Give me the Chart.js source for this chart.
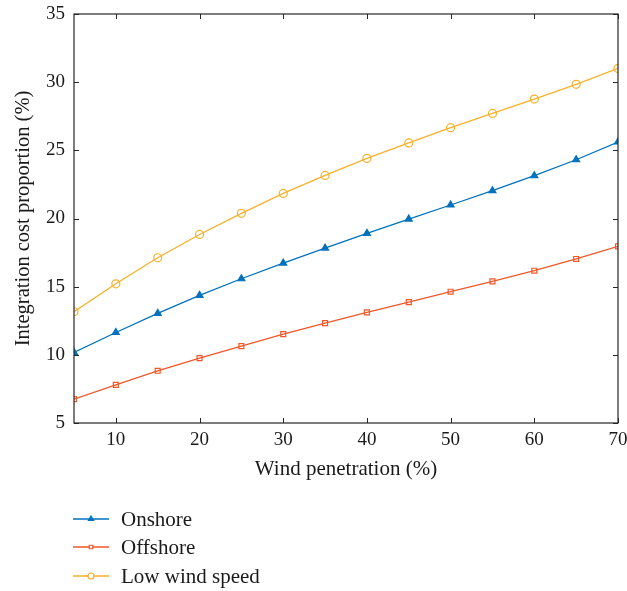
<!DOCTYPE html>
<html>
<head>
<meta charset="utf-8">
<script src="https://cdn.jsdelivr.net/npm/chart.js@4"></script>
<style>
  html, body { margin: 0; padding: 0; background: #fff; }
  #wrap { width: 627px; height: 591px; }
</style>
</head>
<body>
<div id="wrap"><canvas id="grafico"></canvas></div>
<script>
// dati
const penetrazione = [5, 10, 15, 20, 25, 30, 35, 40, 45, 50, 55, 60, 65, 70];
const onshore = [10.18, 11.64, 13.04, 14.36, 15.58, 16.73, 17.83, 18.91, 19.96, 20.99, 22.04, 23.14, 24.31, 25.61];
const offshore = [6.75, 7.8, 8.83, 9.76, 10.64, 11.52, 12.33, 13.11, 13.87, 14.63, 15.39, 16.17, 17.03, 17.96];
const lowWind = [13.16, 15.21, 17.12, 18.83, 20.38, 21.84, 23.16, 24.41, 25.54, 26.66, 27.71, 28.76, 29.84, 31.01];
const xTicks = [10, 20, 30, 40, 50, 60, 70];
const yTicks = [5, 10, 15, 20, 25, 30, 35];

const FONT = "'Liberation Serif', 'DejaVu Serif', serif";
const BLU = '#0072BD';
const ARANCIO = '#F0582A';
const GIALLO = '#F5B12A';

function serie(label, valori, colore, stile, raggio, pieno) {
    return {
        label: label,
        data: penetrazione.map((x, i) => ({ x: x, y: valori[i] })),
        borderColor: colore,
        backgroundColor: pieno ? colore : '#fff',
        pointBorderColor: colore,
        pointBackgroundColor: pieno ? colore : 'rgba(0,0,0,0)',
        pointStyle: stile,
        pointRadius: raggio,
        pointBorderWidth: 1.2,
        borderWidth: 1.3,
        tension: 0,
        fill: false
    };
}

// cornice + tacche verso l'interno (stile matlab)
const cornicePlugin = {
    id: 'cornice',
    afterDraw(chart) {
        const c = chart.ctx;
        const a = chart.chartArea;
        const sx = chart.scales.x, sy = chart.scales.y;
        c.save();
        c.strokeStyle = '#262626';
        c.lineWidth = 1.2;
        c.strokeRect(a.left, a.top, a.right - a.left, a.bottom - a.top);
        c.lineWidth = 1;
        const L = 5;
        xTicks.forEach(v => {
            const p = Math.round(sx.getPixelForValue(v)) + 0.5;
            c.beginPath();
            c.moveTo(p, a.bottom); c.lineTo(p, a.bottom - L);
            c.moveTo(p, a.top); c.lineTo(p, a.top + L);
            c.stroke();
        });
        yTicks.forEach(v => {
            const p = Math.round(sy.getPixelForValue(v)) + 0.5;
            c.beginPath();
            c.moveTo(a.left, p); c.lineTo(a.left + L, p);
            c.moveTo(a.right, p); c.lineTo(a.right - L, p);
            c.stroke();
        });
        c.restore();
    }
};

// legenda verticale sotto il grafico
const legendaPlugin = {
    id: 'legendaSotto',
    afterDraw(chart) {
        const c = chart.ctx;
        const x0 = 73, x1 = 109, xt = 121;
        const righe = [519, 547, 576];
        c.save();
        chart.data.datasets.forEach((ds, i) => {
            const y = righe[i];
            c.strokeStyle = ds.borderColor;
            c.lineWidth = 1.3;
            c.beginPath();
            c.moveTo(x0, y); c.lineTo(x1, y);
            c.stroke();
            c.lineWidth = 1.2;
            c.fillStyle = ds.pointBackgroundColor === 'rgba(0,0,0,0)' ? '#fff' : ds.borderColor;
            c.strokeStyle = ds.borderColor;
            Chart.helpers.drawPoint(c, {
                pointStyle: ds.pointStyle,
                radius: ds.pointRadius - 1,
                borderWidth: 1.2,
                rotation: 0
            }, (x0 + x1) / 2, y);
            c.fillStyle = '#1a1a1a';
            c.font = '21px ' + FONT;
            c.textBaseline = 'middle';
            c.textAlign = 'left';
            c.fillText(ds.label, xt, y + 1);
        });
        c.restore();
    }
};

const ctx = document.getElementById('grafico').getContext('2d');
new Chart(ctx, {
    type: 'line',
    data: {
        datasets: [
            serie('Onshore', onshore, BLU, 'triangle', 4, true),
            serie('Offshore', offshore, ARANCIO, 'rect', 3.5, false),
            serie('Low wind speed', lowWind, GIALLO, 'circle', 4, false)
        ]
    },
    options: {
        responsive: true,
        maintainAspectRatio: false,
        animation: false,
        layout: { padding: { left: 0, right: 9, top: 14, bottom: 100 } },
        plugins: {
            legend: { display: false },
            tooltip: { enabled: false }
        },
        scales: {
            x: {
                type: 'linear',
                min: 5,
                max: 70,
                afterBuildTicks: s => { s.ticks = xTicks.map(v => ({ value: v })); },
                afterFit: s => { s.height = 68; s.paddingLeft = 0; s.paddingRight = 0; },
                grid: { display: false, drawTicks: false },
                border: { display: false },
                ticks: { color: '#1a1a1a', padding: 6, font: { family: FONT, size: 19 } },
                title: {
                    display: true,
                    text: 'Wind penetration (%)',
                    color: '#1a1a1a',
                    font: { family: FONT, size: 21 },
                    padding: { top: 0, bottom: 9 }
                }
            },
            y: {
                type: 'linear',
                min: 5,
                max: 35,
                afterBuildTicks: s => { s.ticks = yTicks.map(v => ({ value: v })); },
                afterFit: s => { s.width = 74; s.paddingTop = 0; s.paddingBottom = 0; },
                grid: { display: false, drawTicks: false },
                border: { display: false },
                ticks: { color: '#1a1a1a', padding: 9, font: { family: FONT, size: 19 } },
                title: {
                    display: true,
                    text: 'Integration cost proportion (%)',
                    color: '#1a1a1a',
                    font: { family: FONT, size: 20.5 },
                    padding: { top: 11, bottom: 0 }
                }
            }
        }
    },
    plugins: [cornicePlugin, legendaPlugin]
});
</script>
</body>
</html>
